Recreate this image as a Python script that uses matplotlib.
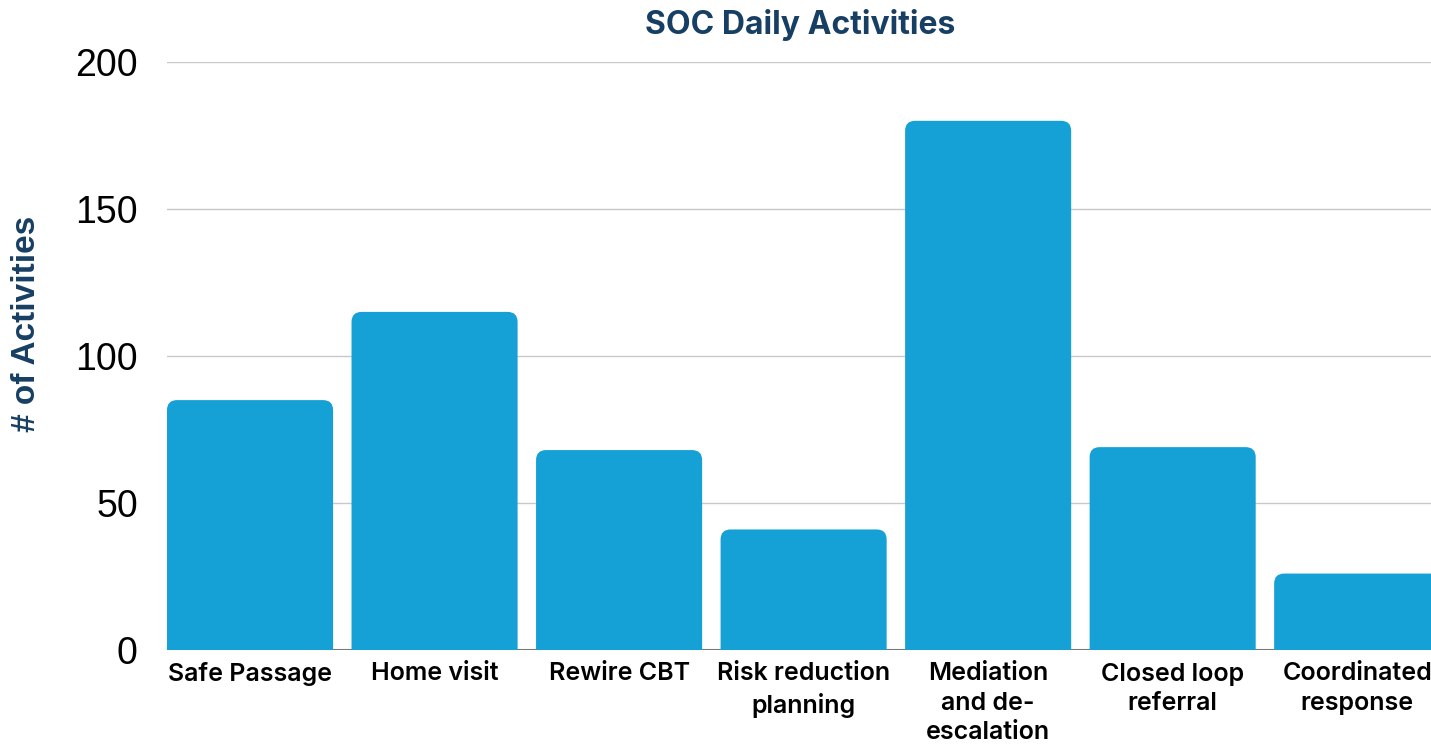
import numpy as np
import matplotlib
matplotlib.use("Agg")
import matplotlib.pyplot as plt
from matplotlib.patches import FancyBboxPatch

categories = ["Safe Passage", "Home visit", "Rewire CBT", "Risk reduction\nplanning",
              "Mediation\nand de-\nescalation", "Closed loop\nreferral", "Coordinated\nresponse"]
values = [85, 115, 68, 41, 180, 69, 26]
yticks = [0, 50, 100, 150, 200]

bar_color = "#15a1d5"
navy = "#173f63"

fig = plt.figure(figsize=(14.31, 7.45), dpi=100)
ax = fig.add_axes([167 / 1431, 1 - 650 / 745, 1 - 167 / 1431, (650 - 62) / 745])

x = np.arange(len(values))
width = 0.9
ax.set_xlim(-width / 2, 6.40)
ax.set_ylim(0, 200)

# rounded top corners: radius ~10 px
px_x = (ax.get_position().width * 1431) / (ax.get_xlim()[1] - ax.get_xlim()[0])
px_y = (ax.get_position().height * 745) / 200
r = 10 / px_x
aspect = (10 / px_y) / r

for xi, v in zip(x, values):
    p = FancyBboxPatch((xi - width / 2, -10), width, v + 10,
                       boxstyle=f"round,pad=0,rounding_size={r}",
                       mutation_aspect=aspect, facecolor=bar_color,
                       edgecolor="none", zorder=3)
    ax.add_patch(p)

ax.set_yticks(yticks)
ax.set_yticklabels([str(t) for t in yticks], fontsize=27, family="Liberation Sans")
ax.tick_params(axis="y", length=0, pad=21)
ax.set_xticks(x)
ax.set_xticklabels(categories, fontsize=18, family=["Inter", "DejaVu Sans"],
                   weight="semibold", linespacing=1.35)
ax.tick_params(axis="x", length=0, pad=9)

for s in ax.spines.values():
    s.set_visible(False)
ax.grid(axis="y", color="#c8c8c8", lw=1, zorder=0)
ax.set_axisbelow(True)
ax.axhline(0, color="#777777", lw=1.5, zorder=2)

fig.text(800 / 1431, 1 - 25 / 745, "SOC Daily Activities", ha="center", va="center",
         fontsize=23, weight="bold", color=navy, family=["Inter", "DejaVu Sans"])
fig.text(27 / 1431, 1 - 324 / 745, "# of Activities", ha="center", va="center",
         rotation=90, fontsize=24, weight="bold", color=navy, family="Liberation Sans")

fig.savefig("out.png", dpi=100)
